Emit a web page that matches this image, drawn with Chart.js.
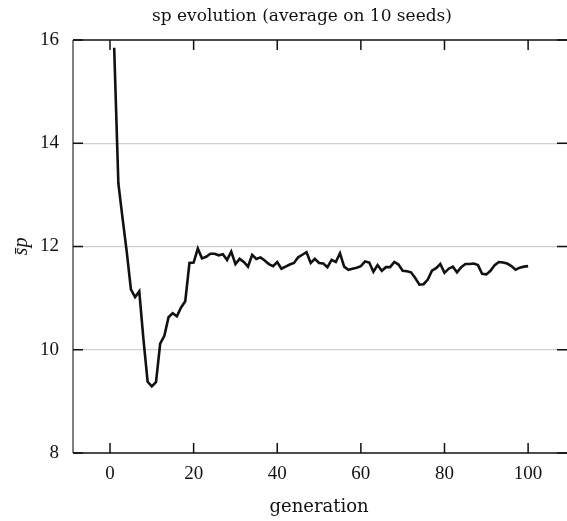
<!DOCTYPE html>
<html>
<head>
<meta charset="utf-8">
<script src="https://cdn.jsdelivr.net/npm/chart.js@4"></script>
<style>
  html, body { margin: 0; padding: 0; background: #fff; }
  #wrap { width: 567px; height: 521px; position: relative; }
</style>
</head>
<body>
<div id="wrap"><canvas id="spChart"></canvas></div>
<script>
// generations 1..100 and the averaged sp value per generation
var generations = [];
for (var g = 1; g <= 100; g++) generations.push(g);

var spValues = [
  15.85, 13.22, 12.55, 11.90, 11.17, 11.02, 11.13, 10.20, 9.38, 9.29,
  9.37, 10.12, 10.27, 10.63, 10.71, 10.65, 10.82, 10.94, 11.68, 11.69,
  11.96, 11.77, 11.80, 11.86, 11.86, 11.83, 11.85, 11.74, 11.90, 11.66,
  11.76, 11.70, 11.61, 11.84, 11.76, 11.79, 11.73, 11.66, 11.62, 11.70,
  11.57, 11.61, 11.65, 11.68, 11.79, 11.84, 11.89, 11.68, 11.76, 11.68,
  11.67, 11.60, 11.74, 11.70, 11.87, 11.61, 11.55, 11.57, 11.59, 11.62,
  11.71, 11.69, 11.51, 11.64, 11.53, 11.60, 11.60, 11.70, 11.65, 11.53,
  11.52, 11.50, 11.39, 11.26, 11.27, 11.36, 11.53, 11.58, 11.66, 11.49,
  11.57, 11.61, 11.50, 11.60, 11.66, 11.66, 11.67, 11.64, 11.47, 11.46,
  11.53, 11.64, 11.70, 11.69, 11.67, 11.62, 11.55, 11.59, 11.61, 11.62
];

var xTicks = [0, 20, 40, 60, 80, 100];
var yTicks = [8, 10, 12, 14, 16];

var chartTitle = 'sp evolution (average on 10 seeds)';
var xTitle = 'generation';
var yTitle = 's\u0304p';

var serif = '"Liberation Serif", "DejaVu Serif", serif';
var wideSerif = '"DejaVu Serif", "Liberation Serif", serif';

// spines, inward ticks and titles drawn by hand
var framePlugin = {
  id: 'frame',
  afterDraw: function (chart) {
    var ctx = chart.ctx;
    var area = chart.chartArea;
    var xs = chart.scales.x;
    var ys = chart.scales.y;
    var tick = 10;

    ctx.save();
    ctx.strokeStyle = '#111';
    ctx.lineWidth = 1.5;

    // top + bottom spine
    ctx.beginPath();
    ctx.moveTo(area.left, area.top); ctx.lineTo(area.right, area.top);
    ctx.moveTo(area.left, area.bottom); ctx.lineTo(area.right, area.bottom);
    ctx.stroke();

    // left spine (a bit lighter)
    ctx.strokeStyle = '#555';
    ctx.beginPath();
    ctx.moveTo(area.left, area.top); ctx.lineTo(area.left, area.bottom);
    ctx.stroke();

    ctx.strokeStyle = '#111';
    ctx.beginPath();
    xTicks.forEach(function (v) {
      var px = xs.getPixelForValue(v);
      ctx.moveTo(px, area.bottom); ctx.lineTo(px, area.bottom - tick);
      ctx.moveTo(px, area.top); ctx.lineTo(px, area.top + tick);
    });
    yTicks.forEach(function (v) {
      var py = ys.getPixelForValue(v);
      ctx.moveTo(area.left, py); ctx.lineTo(area.left + tick, py);
      ctx.moveTo(area.right, py); ctx.lineTo(area.right - tick, py);
    });
    ctx.stroke();

    ctx.fillStyle = '#111';
    ctx.textAlign = 'center';
    ctx.textBaseline = 'middle';
    ctx.font = '17px ' + wideSerif;
    ctx.fillText(chartTitle, 302, 17);

    ctx.font = '18px ' + wideSerif;
    ctx.fillText(xTitle, (xs.getPixelForValue(0) + xs.getPixelForValue(100)) / 2, 507);

    ctx.translate(22, (area.top + area.bottom) / 2);
    ctx.rotate(-Math.PI / 2);
    ctx.font = 'italic 20px ' + serif;
    ctx.fillText(yTitle, 0, 0);
    ctx.restore();
  }
};

new Chart(document.getElementById('spChart'), {
  type: 'line',
  data: {
    labels: generations,
    datasets: [{
      data: spValues,
      borderColor: '#111',
      borderWidth: 2.6,
      pointRadius: 0,
      tension: 0,
      fill: false
    }]
  },
  options: {
    responsive: true,
    maintainAspectRatio: false,
    animation: false,
    layout: { padding: { top: 40, left: 0, right: 0, bottom: 0 } },
    plugins: {
      legend: { display: false },
      tooltip: { enabled: false }
    },
    scales: {
      x: {
        type: 'linear',
        min: -8.85,
        max: 109.3,
        afterBuildTicks: function (s) {
          s.ticks = xTicks.map(function (v) { return { value: v }; });
        },
        afterFit: function (s) { s.height = 68; },
        grid: { display: false, drawTicks: false },
        border: { display: false },
        ticks: {
          padding: 10,
          color: '#111',
          maxRotation: 0,
          font: { family: serif, size: 19 }
        }
      },
      y: {
        min: 8,
        max: 16,
        afterBuildTicks: function (s) {
          s.ticks = yTicks.map(function (v) { return { value: v }; });
        },
        afterFit: function (s) { s.width = 73; },
        grid: {
          drawTicks: false,
          lineWidth: 1.2,
          color: function (c) {
            var v = c.tick ? c.tick.value : null;
            return (v === 10 || v === 12 || v === 14) ? '#cfcfcf' : 'rgba(0,0,0,0)';
          }
        },
        border: { display: false },
        ticks: {
          padding: 14,
          color: '#111',
          font: { family: serif, size: 19 }
        }
      }
    }
  },
  plugins: [framePlugin]
});
</script>
</body>
</html>
